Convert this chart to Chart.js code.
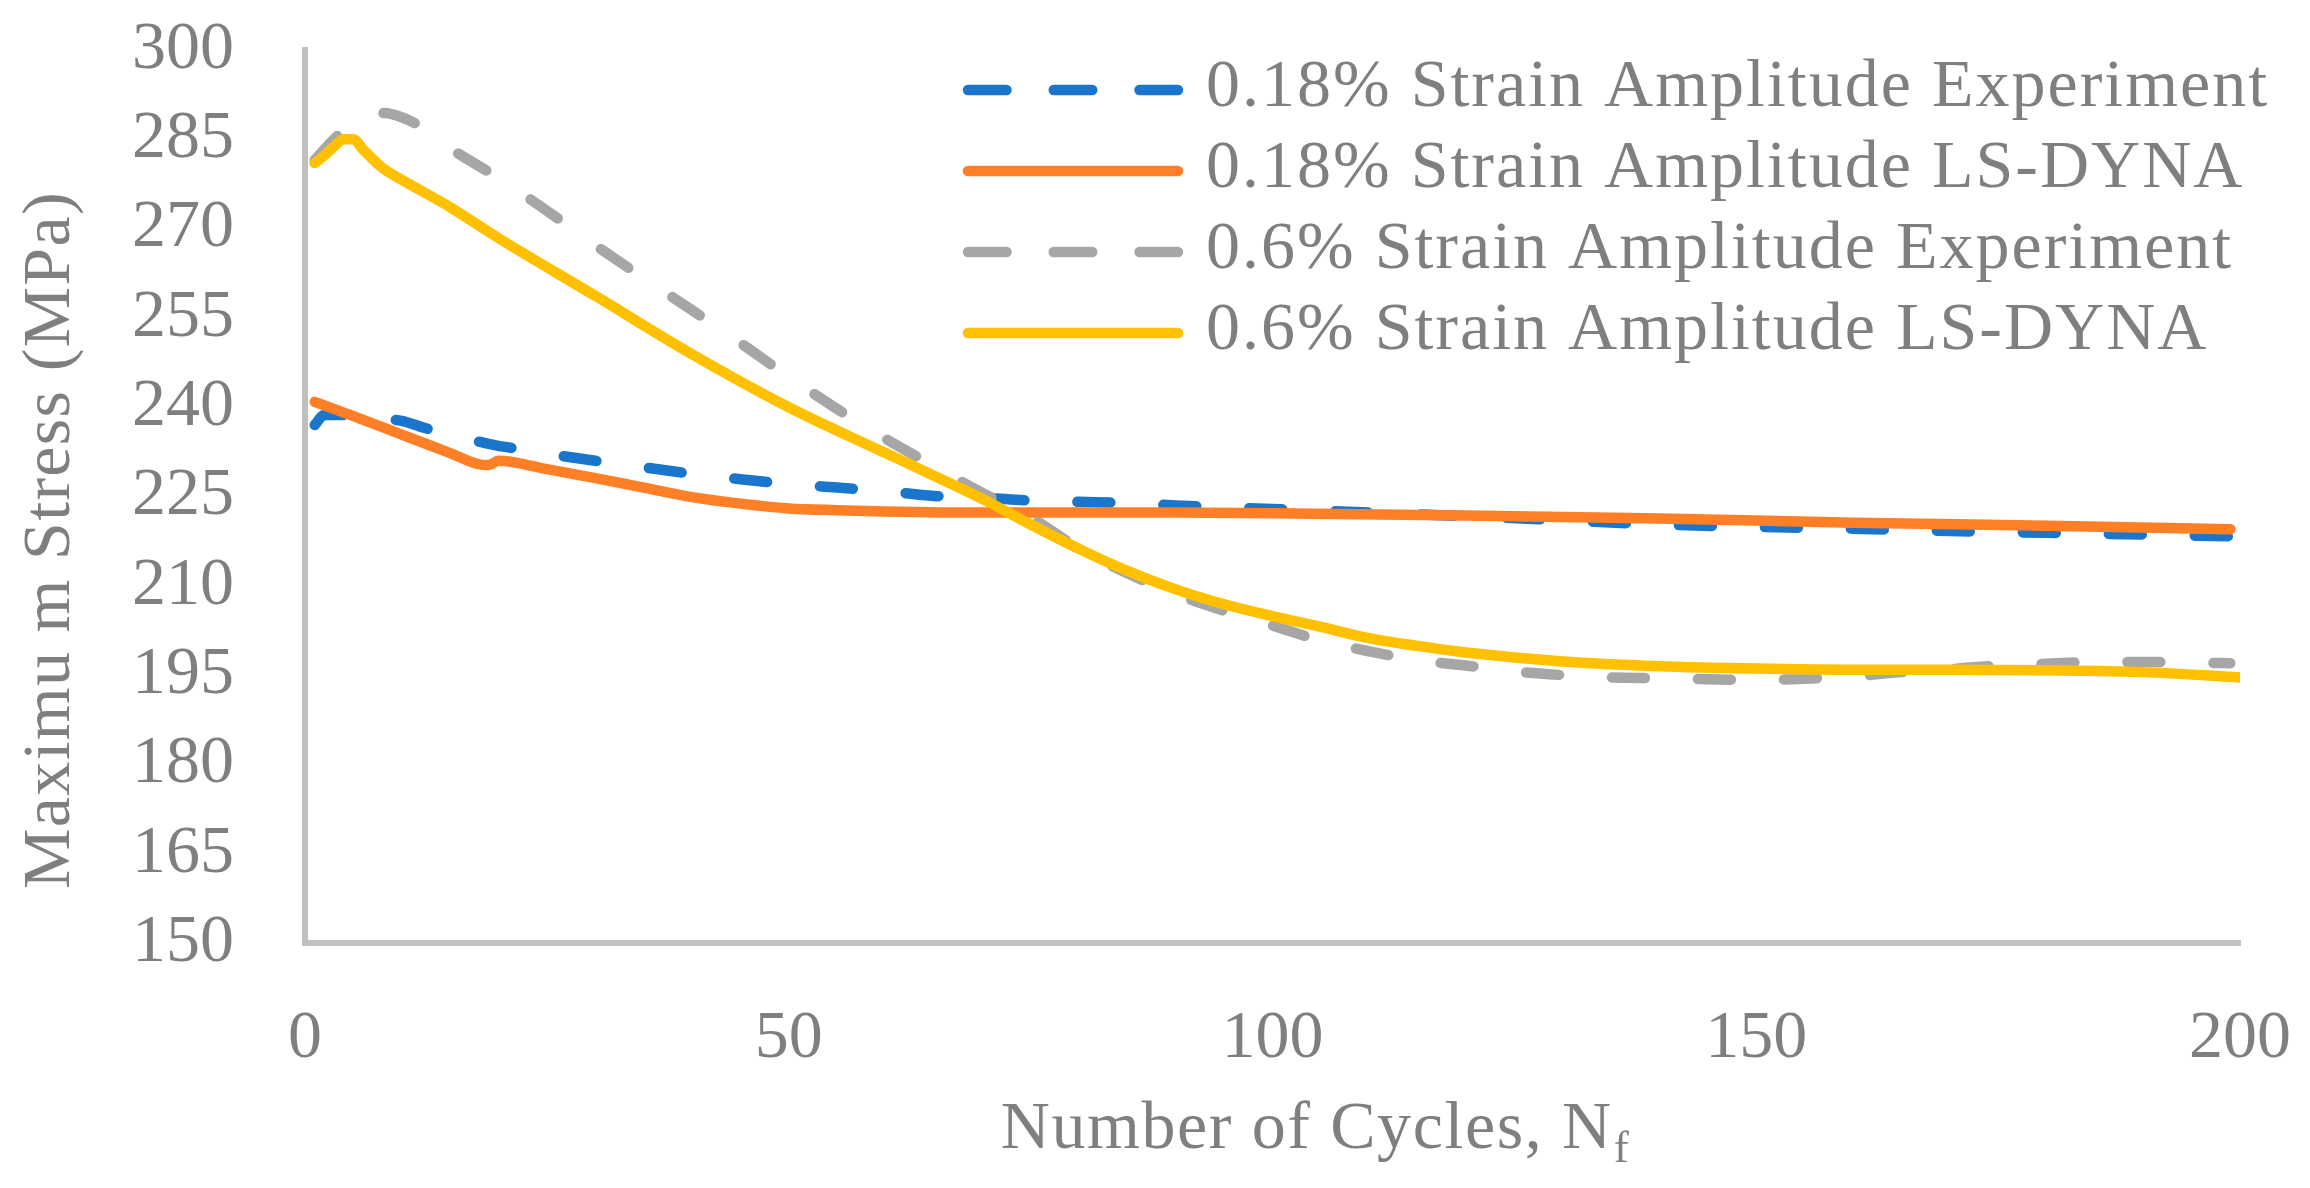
<!DOCTYPE html>
<html>
<head>
<meta charset="utf-8">
<title>Maximum Stress vs Number of Cycles</title>
<script src="https://cdn.jsdelivr.net/npm/chart.js@4.4.0/dist/chart.umd.min.js"></script>
<style>
  html, body { margin: 0; padding: 0; background: #ffffff; }
  #wrap { width: 2310px; height: 1188px; position: relative; }
</style>
</head>
<body>
<div id="wrap"><canvas id="chart"></canvas></div>
<script>
// series names, same order as the legend
const seriesLabels = [
    '0.18% Strain Amplitude Experiment',
    '0.18% Strain Amplitude LS-DYNA',
    '0.6% Strain Amplitude Experiment',
    '0.6% Strain Amplitude LS-DYNA'
];

// 0.18% experiment
const expLowCycles = [1, 2, 4, 6, 8, 10, 12, 15, 18, 20, 22, 25, 30, 35, 40, 45, 50, 55, 60, 65, 70, 75, 80, 85, 90, 95, 100, 110, 120, 130, 140, 150, 160, 170, 180, 190, 199];
const expLowStress = [237.0, 238.7, 238.7, 238.3, 238.0, 237.7, 236.7, 235.3, 234.2, 233.5, 233.0, 232.2, 231.0, 229.9, 228.8, 227.9, 227.1, 226.5, 225.9, 225.1, 224.8, 224.3, 224.1, 223.9, 223.5, 223.2, 222.9, 222.3, 221.7, 221.0, 220.3, 219.9, 219.6, 219.2, 218.9, 218.6, 218.3];

// 0.18% LS-DYNA
const lsLowCycles = [1, 5, 10, 15, 18, 19, 20, 25, 30, 35, 40, 45, 50, 55, 60, 70, 80, 90, 100, 120, 140, 160, 180, 199];
const lsLowStress = [240.9, 238.5, 235.4, 232.3, 230.4, 230.3, 231.0, 229.6, 228.1, 226.5, 224.9, 223.8, 223.0, 222.7, 222.5, 222.3, 222.3, 222.3, 222.2, 221.8, 221.3, 220.6, 220.1, 219.5];

// 0.6% experiment
const expHighCycles = [1, 3, 5, 8, 10, 12, 15, 20, 25, 30, 35, 40, 45, 50, 55, 60, 65, 70, 75, 80, 85, 90, 95, 100, 105, 110, 115, 120, 125, 130, 135, 140, 145, 150, 155, 160, 165, 170, 175, 180, 185, 190, 195, 199];
const expHighStress = [281.5, 285.0, 287.8, 289.4, 288.7, 287.1, 283.5, 278.5, 273.0, 267.2, 261.7, 256.3, 250.8, 245.1, 239.7, 234.7, 230.1, 225.6, 221.5, 216.3, 212.1, 208.6, 205.8, 203.3, 200.8, 199.0, 197.5, 196.6, 195.6, 195.0, 194.6, 194.5, 194.3, 194.2, 194.4, 194.8, 195.5, 196.0, 196.6, 196.9, 197.2, 197.2, 197.1, 197.0];

// 0.6% LS-DYNA
const lsHighCycles = [1, 2, 3, 4, 5, 6, 8, 10, 15, 20, 30, 40, 50, 60, 65, 70, 75, 80, 85, 90, 95, 100, 105, 110, 115, 120, 130, 140, 150, 160, 170, 180, 190, 200];
const lsHighStress = [281.0, 282.3, 283.8, 285.0, 285.0, 283.3, 280.2, 278.2, 273.6, 268.4, 258.7, 248.9, 240.0, 232.3, 228.5, 224.6, 220.3, 216.2, 212.5, 209.4, 206.9, 204.9, 203.1, 201.2, 199.9, 198.8, 197.3, 196.5, 196.1, 195.9, 195.9, 195.8, 195.5, 194.6];

// axis ticks
const xTicks = [0, 50, 100, 150, 200];
const yTicks = [150, 165, 180, 195, 210, 225, 240, 255, 270, 285, 300];

const FONT = "'Liberation Serif', 'Times New Roman', serif";
const TEXT_COLOR = '#7f7f7f';
const AXIS_COLOR = '#bfbfbf';
const colors = ['#1a75cc', '#ff7f27', '#a6a6a6', '#ffc000'];
const PLOT_TOP = 50;
const PLOT_RIGHT = 2240;

const toPoints = (xs, ys) => xs.map((x, i) => ({ x: x, y: ys[i] }));

function lineSet(idx, xs, ys, dashed) {
    return {
        label: seriesLabels[idx],
        data: toPoints(xs, ys),
        borderColor: colors[idx],
        backgroundColor: colors[idx],
        borderWidth: 10.5,
        borderDash: dashed ? [33, 53] : [],
        borderCapStyle: 'round',
        borderJoinStyle: 'round',
        pointRadius: 0,
        cubicInterpolationMode: 'monotone',
        fill: false,
        order: 4 - idx   // excel draws later series on top
    };
}

// legend + axis titles drawn on the canvas
const decorPlugin = {
    id: 'decor',
    afterDraw(chart) {
        const ctx = chart.ctx;
        ctx.save();
        ctx.fillStyle = TEXT_COLOR;
        ctx.font = `68px ${FONT}`;
        ctx.letterSpacing = '2px';

        // legend
        chart.data.datasets.forEach((ds, i) => {
            const y = 90 + i * 81;
            ctx.beginPath();
            ctx.strokeStyle = ds.borderColor;
            ctx.lineWidth = ds.borderWidth;
            ctx.lineCap = 'round';
            ctx.setLineDash(ds.borderDash.length ? [38.5, 47.25] : []);
            ctx.moveTo(968, y);
            ctx.lineTo(1178, y);
            ctx.stroke();
            ctx.setLineDash([]);
            ctx.textAlign = 'left';
            ctx.textBaseline = 'middle';
            ctx.fillText(ds.label, 1206, y - 2);
        });

        // x title with subscript
        ctx.letterSpacing = '1.6px';
        ctx.textBaseline = 'alphabetic';
        ctx.textAlign = 'left';
        const main = 'Number of Cycles, N';
        const w1 = ctx.measureText(main).width;
        ctx.font = `45px ${FONT}`;
        const w2 = ctx.measureText('f').width;
        const x0 = 1315 - (w1 + w2) / 2;
        ctx.font = `68px ${FONT}`;
        ctx.fillText(main, x0, 1148);
        ctx.font = `45px ${FONT}`;
        ctx.fillText('f', x0 + w1 + 1, 1162);

        // y title
        ctx.letterSpacing = '1.3px';
        ctx.font = `68px ${FONT}`;
        ctx.translate(69, 540);
        ctx.rotate(-Math.PI / 2);
        ctx.textAlign = 'center';
        ctx.fillText('Maximu m Stress (MPa)', 0, 0);
        ctx.restore();
    }
};

const ctx = document.getElementById('chart').getContext('2d');
const chart = new Chart(ctx, {
    type: 'line',
    data: {
        datasets: [
            lineSet(0, expLowCycles, expLowStress, true),
            lineSet(1, lsLowCycles, lsLowStress, false),
            lineSet(2, expHighCycles, expHighStress, true),
            lineSet(3, lsHighCycles, lsHighStress, false)
        ]
    },
    options: {
        responsive: true,
        maintainAspectRatio: false,
        animation: false,
        events: [],
        layout: { padding: { top: PLOT_TOP, right: 2310 - PLOT_RIGHT, left: 0, bottom: 0 } },
        plugins: {
            legend: { display: false },
            tooltip: { enabled: false },
            title: { display: false }
        },
        scales: {
            x: {
                type: 'linear',
                min: xTicks[0],
                max: xTicks[xTicks.length - 1],
                afterBuildTicks: (scale) => { scale.ticks = xTicks.map(v => ({ value: v })); },
                ticks: { color: TEXT_COLOR, font: { family: FONT, size: 68 }, padding: 55, maxRotation: 0, autoSkip: false },
                grid: { display: false, drawTicks: false },
                border: { display: true, color: AXIS_COLOR, width: 6 },
                afterFit: (scale) => { scale.height = 245; scale.paddingLeft = 0; scale.paddingRight = 0; }
            },
            y: {
                type: 'linear',
                min: yTicks[0],
                max: yTicks[yTicks.length - 1],
                afterBuildTicks: (scale) => { scale.ticks = yTicks.map(v => ({ value: v })); },
                ticks: { color: TEXT_COLOR, font: { family: FONT, size: 68 }, padding: 71, autoSkip: false },
                grid: { display: false, drawTicks: false },
                border: { display: true, color: AXIS_COLOR, width: 6 },
                afterFit: (scale) => { scale.width = 305; scale.paddingTop = 0; scale.paddingBottom = 0; }
            }
        }
    },
    plugins: [decorPlugin]
});

// keep the plot box where the reference has it
const pad = chart.options.layout.padding;
const driftTop = chart.chartArea.top - PLOT_TOP;
const driftRight = chart.chartArea.right - PLOT_RIGHT;
if (Math.abs(driftTop) > 0.5 || Math.abs(driftRight) > 0.5) {
    pad.top = pad.top - driftTop;
    pad.right = pad.right + driftRight;
    chart.update();
}
</script>
</body>
</html>
